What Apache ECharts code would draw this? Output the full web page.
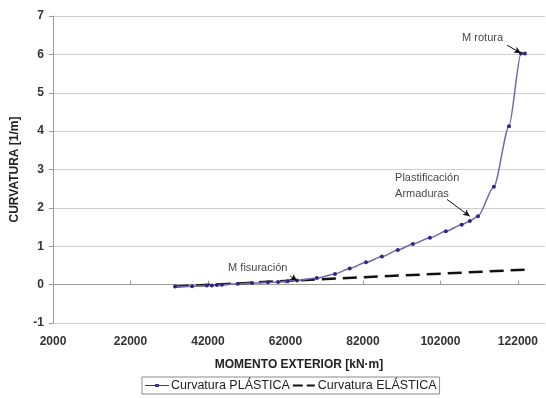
<!DOCTYPE html>
<html>
<head>
<meta charset="utf-8">
<script src="https://cdn.jsdelivr.net/npm/echarts@6/dist/echarts.min.js"></script>
<style>
html,body{margin:0;padding:0;background:#fff;}
#chart{width:546px;height:398px;}
</style>
</head>
<body>
<div id="chart"></div>
<script>
// momento exterior [kN·m] y curvatura [1/m]
var momentoPlastico = [33500, 37900, 41700, 43000, 44300, 45600, 49700, 53400, 57500, 60100, 62600, 65000,
	70100, 74800, 78600, 82800, 86900, 91000, 94900, 99300, 103400, 107500, 109600, 111700,
	115800, 119700, 122800, 123800];
var curvaturaPlastica = [-0.05, -0.04, -0.02, -0.02, -0.01, 0.0, 0.02, 0.04, 0.06, 0.07, 0.09, 0.11,
	0.17, 0.28, 0.42, 0.58, 0.73, 0.9, 1.06, 1.22, 1.39, 1.56, 1.66, 1.78,
	2.55, 4.13, 6.02, 6.02];
var momentoElastico = [33500, 65000, 124000];
var curvaturaElastica = [-0.05, 0.11, 0.39];
var xTicks = [2000, 22000, 42000, 62000, 82000, 102000, 122000];

// anotaciones: texto, inicio del texto (izquierda), inicio y fin de la flecha
var notas = [
	{ texto: 'M fisuración', pos: [47200, 0.44], desde: [63200, 0.23], hasta: [65000, 0.1] },
	{ texto: 'Plastificación\nArmaduras', pos: [90300, 2.58], desde: [103700, 2.22], hasta: [109600, 1.78] },
	{ texto: 'M rotura', pos: [107600, 6.42], desde: [119200, 6.24], hasta: [122800, 6.03] }
];

var fuente = 'Liberation Sans, Arial, sans-serif';

function pares(xs, ys) {
	return xs.map(function (x, i) { return [x, ys[i]]; });
}

var myChart = echarts.init(document.getElementById('chart'));
var option = {
	animation: false,
	textStyle: { fontFamily: fuente },
	grid: {
		left: 53,
		right: 1,
		top: 16,
		bottom: 75
	},
	legend: {
		bottom: 4,
		left: 142,
		data: [
			{
				name: 'Curvatura PLÁSTICA',
				icon: 'path://M0,3.5h10v1h-10z M14,3.5h10v1h-10z M10,2.5h4v3h-4z M0,0h0.01v0.01z M24,8h0.01v0.01z',
				itemStyle: { color: '#3f3690' }
			},
			{
				name: 'Curvatura ELÁSTICA',
				icon: 'path://M1,3h10v2h-10z M15,3h8v2h-8z M0,0h0.01v0.01z M24,8h0.01v0.01z',
				itemStyle: { color: '#111' }
			}
		],
		itemWidth: 24,
		itemHeight: 8,
		itemGap: 2,
		padding: [2, 3],
		borderColor: '#8a8a8a',
		borderWidth: 1,
		borderRadius: 0,
		textStyle: { fontSize: 12.5, color: '#222', fontFamily: fuente, padding: [0, 0, 0, -3] }
	},
	xAxis: {
		type: 'value',
		min: 2000,
		max: 129000,
		interval: 20000,
		name: 'MOMENTO EXTERIOR [kN·m]',
		nameLocation: 'middle',
		nameGap: 36,
		nameTextStyle: { fontWeight: 'bold', fontSize: 12, color: '#222' },
		axisLine: { lineStyle: { color: '#9a9a9a', width: 1 } },
		axisTick: { show: true, inside: true, length: 4, customValues: xTicks, lineStyle: { color: '#9a9a9a' } },
		axisLabel: {
			customValues: xTicks,
			formatter: function (v) { return String(v); },
			fontWeight: 'bold',
			fontSize: 12,
			color: '#333',
			margin: 13
		},
		splitLine: { show: false }
	},
	yAxis: {
		type: 'value',
		min: -1,
		max: 7,
		interval: 1,
		name: 'CURVATURA [1/m]',
		nameLocation: 'middle',
		nameGap: 32,
		nameTextStyle: { fontWeight: 'bold', fontSize: 12, color: '#222' },
		axisLine: { show: true, lineStyle: { color: '#9a9a9a', width: 1 } },
		axisTick: { show: true, length: 4, lineStyle: { color: '#9a9a9a' } },
		axisLabel: { fontWeight: 'bold', fontSize: 12, color: '#333', margin: 9 },
		splitLine: { lineStyle: { color: '#cfcfcf', width: 1 } }
	},
	series: [
		{
			name: 'Curvatura PLÁSTICA',
			type: 'line',
			data: pares(momentoPlastico, curvaturaPlastica),
			smooth: 0.25,
			smoothMonotone: 'x',
			symbol: 'circle',
			symbolSize: 4,
			lineStyle: { color: '#7466ad', width: 1.5 },
			itemStyle: { color: '#2b2a80' },
			z: 3
		},
		{
			name: 'Curvatura ELÁSTICA',
			type: 'line',
			data: pares(momentoElastico, curvaturaElastica),
			symbol: 'none',
			lineStyle: { color: '#111', width: 2.5, type: [14, 7] },
			itemStyle: { color: '#111' },
			z: 2
		},
		{
			name: 'notas',
			type: 'scatter',
			symbolSize: 0,
			data: notas.map(function (n) { return { value: n.pos, name: n.texto }; }),
			label: {
				show: true,
				position: 'inside',
				formatter: '{b}',
				align: 'left',
				fontSize: 11,
				color: '#111',
				lineHeight: 16,
				fontFamily: 'Liberation Sans Narrow, Liberation Sans, Arial, sans-serif'
			},
			markLine: {
				silent: true,
				symbol: ['none', 'arrow'],
				symbolSize: [5, 7],
				label: { show: false },
				lineStyle: { color: '#111', width: 1, type: 'solid' },
				data: notas.map(function (n) {
					return [{ coord: n.desde }, { coord: n.hasta }];
				})
			},
			z: 5
		}
	]
};
myChart.setOption(option);
</script>
</body>
</html>
